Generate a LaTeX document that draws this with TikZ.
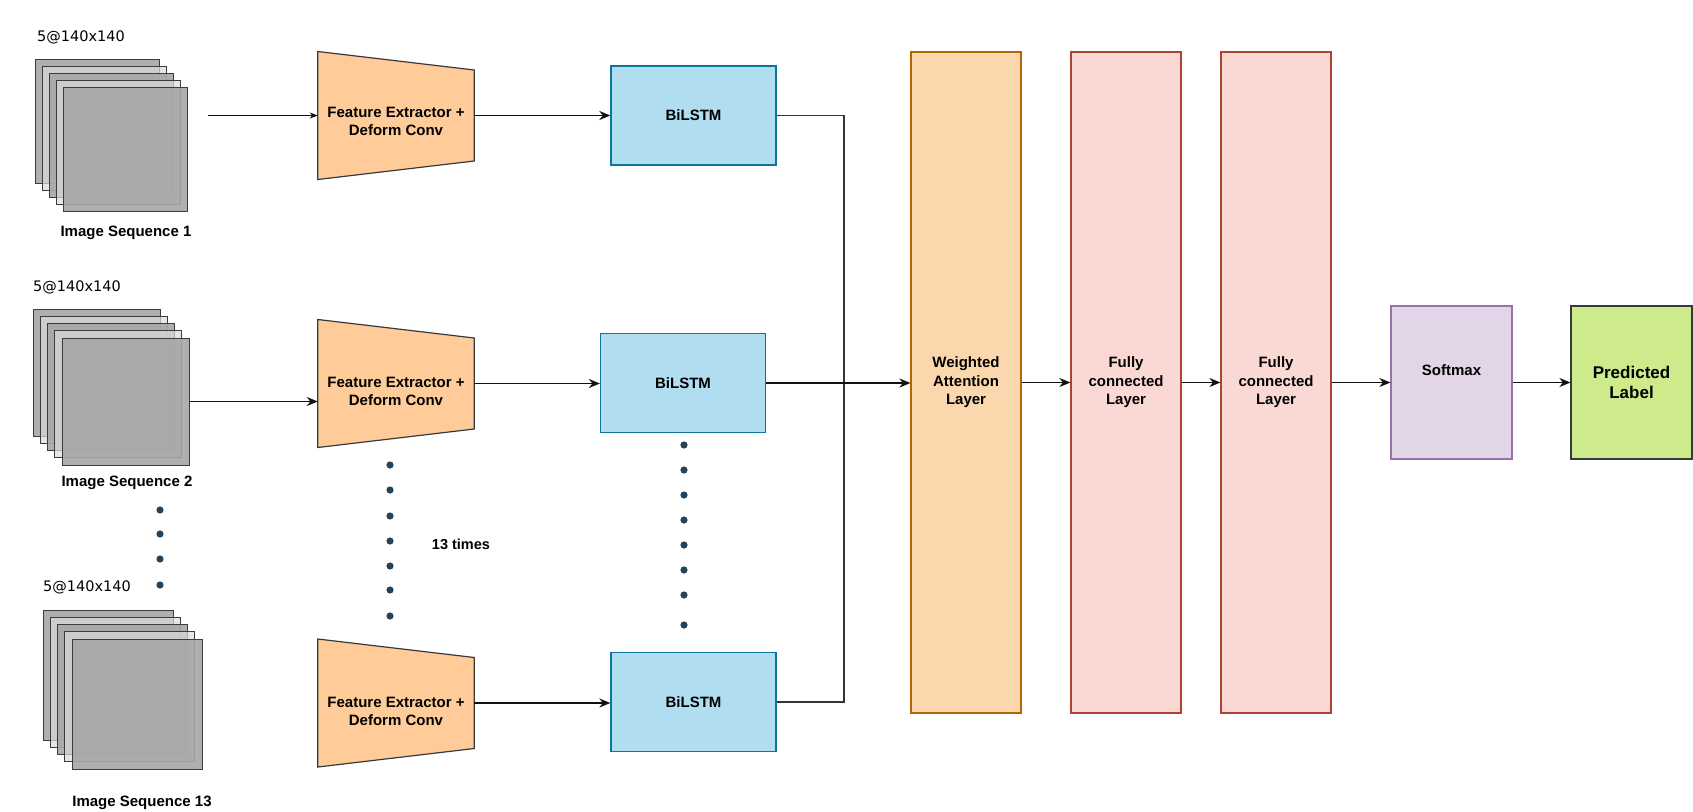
\documentclass[tikz,border=0pt]{standalone}
\usepackage{fontspec}
\setmainfont{Liberation Sans}
\newfontfamily\dejavu{DejaVu Sans}
\usetikzlibrary{arrows.meta,calc}
\definecolor{laystroke}{HTML}{3C3C3C}
\definecolor{laydark}{HTML}{A6A6A6}
\definecolor{laylight}{HTML}{DCDCDC}
\definecolor{trapfill}{HTML}{FFCC99}
\definecolor{trapline}{HTML}{36393D}
\definecolor{lstmfill}{HTML}{B1DDF0}
\definecolor{lstmline}{HTML}{10739E}
\definecolor{wafill}{HTML}{FAD7AC}
\definecolor{waline}{HTML}{B46504}
\definecolor{fcfill}{HTML}{FAD9D5}
\definecolor{fcline}{HTML}{AE4132}
\definecolor{smfill}{HTML}{E1D5E7}
\definecolor{smline}{HTML}{9673A6}
\definecolor{plfill}{HTML}{CDEB8B}
\definecolor{plline}{HTML}{36393D}
\definecolor{dotc}{HTML}{23445D}
\definecolor{connc}{HTML}{111111}
\begin{document}
\begin{tikzpicture}[x=1pt,y=-1pt,
  layer/.style={draw=laystroke, line width=1pt, inner sep=0pt, minimum width=#1, minimum height=#1},
  dk/.style={fill=laydark, fill opacity=.9},
  lt/.style={fill=laylight, fill opacity=.7},
  bold15/.style={font=\fontsize{15}{18}\selectfont\bfseries, align=center, inner sep=0pt},
  dimlbl/.style={font=\dejavu\fontsize{14.5}{17}\selectfont, anchor=west, inner sep=0pt},
  fehold/.style={minimum width=156pt, minimum height=91pt, inner sep=0pt, draw=none},
  trapshape/.style={fill=trapfill, draw=trapline, line width=1.2pt, line join=miter},
  lstm/.style={draw=lstmline, fill=lstmfill, line width=1.3pt, minimum width=165pt, minimum height=99pt, inner sep=0pt, bold15},
  tall/.style={line width=1.2pt, minimum width=110pt, minimum height=661pt, inner sep=0pt, font=\fontsize{15}{18.5}\selectfont\bfseries, align=center},
  wabox/.style={tall, draw=waline, fill=wafill},
  fcbox/.style={tall, draw=fcline, fill=fcfill},
  smbox/.style={draw=smline, fill=smfill, line width=1.2pt, minimum width=121pt, minimum height=153pt, inner sep=0pt},
  plbox/.style={draw=plline, fill=plfill, line width=1.2pt, minimum width=121pt, minimum height=153pt, inner sep=0pt, font=\fontsize{17}{20}\selectfont\bfseries, align=center},
  arr/.style={draw=connc, line width=1.6pt, -{Stealth[length=11pt,width=9pt,inset=3.5pt]}},
  thinarr/.style={draw=connc, line width=0.9pt, -{Stealth[length=8pt,width=6pt,inset=2.5pt]}},
  conn/.style={draw=connc!85, line width=1.7pt},
  dotfill/.style={fill=dotc}
]
\useasboundingbox (0,0) rectangle (1693,811);

% ---------- stack 1 ----------
\node[layer=124pt, dk] (s1a) at (97,121) {};
\node[layer=124pt, lt] (s1b) at (104,128) {};
\node[layer=124pt, dk] (s1c) at (111,135) {};
\node[layer=124pt, lt] (s1d) at (118,142) {};
\node[layer=124pt, dk] (s1e) at (125,149) {};
\node[dimlbl] (d1) at (37,37) {5@140x140};
\node[bold15] (n1) at (126,233) {Image Sequence 1};

% ---------- stack 2 ----------
\node[layer=127pt, dk] (s2a) at (96.5,372.5) {};
\node[layer=127pt, lt] (s2b) at (103.75,379.75) {};
\node[layer=127pt, dk] (s2c) at (111,387) {};
\node[layer=127pt, lt] (s2d) at (118.25,394.25) {};
\node[layer=127pt, dk] (s2e) at (125.5,401.5) {};
\node[dimlbl] (d2) at (33,287) {5@140x140};
\node[bold15] (n2) at (127,483) {Image Sequence 2};

% ---------- stack 3 ----------
\node[layer=130pt, dk] (s3a) at (108,675) {};
\node[layer=130pt, lt] (s3b) at (115.3,682.3) {};
\node[layer=130pt, dk] (s3c) at (122.6,689.6) {};
\node[layer=130pt, lt] (s3d) at (129.9,696.9) {};
\node[layer=130pt, dk] (s3e) at (137.2,704.2) {};
\node[dimlbl] (d3) at (43,587) {5@140x140};
\node[bold15] (n3) at (142,803) {Image Sequence 13};

% ---------- feature extractors ----------
\node[fehold] (fe1) at (396,115.5) {};
\node[fehold] (fe2) at (396,383.5) {};
\node[fehold] (fe3) at (396,703) {};
\foreach \f in {fe1,fe2,fe3}{
  \path[trapshape] ($(\f.west)+(0,-64)$) -- ($(\f.east)+(0,-45.5)$) -- ($(\f.east)+(0,45.5)$) -- ($(\f.west)+(0,64)$) -- cycle;
}
\node[bold15] (fe1t) at ($(fe1)+(0,6)$) {Feature Extractor +\\Deform Conv};
\node[bold15] (fe2t) at ($(fe2)+(0,8)$) {Feature Extractor +\\Deform Conv};
\node[bold15] (fe3t) at ($(fe3)+(0,8)$) {Feature Extractor +\\Deform Conv};

% ---------- BiLSTMs ----------
\node[lstm] (bl1) at (693.5,115.5) {BiLSTM};
\node[lstm] (bl2) at (683,383) {BiLSTM};
\node[lstm] (bl3) at (693.5,702) {BiLSTM};

% ---------- right part ----------
\node[wabox] (wa) at (966,382.5) {Weighted\\Attention\\Layer};
\node[fcbox] (fc1) at (1126,382.5) {Fully\\connected\\Layer};
\node[fcbox] (fc2) at (1276,382.5) {Fully\\connected\\Layer};
\node[smbox] (sm) at (1451.5,382.5) {};
\node[bold15] (smt) at ($(sm)+(0,-12)$) {Softmax};
\node[plbox] (pl) at (1631.5,382.5) {Predicted\\Label};

% ---------- dots ----------
\foreach \yy in {510,534,559,585} \fill[dotfill] (160,\yy) circle[radius=3.6];
\foreach \yy in {465,490,516,541,566,590,616} \fill[dotfill] (390,\yy) circle[radius=3.6];
\foreach \yy in {445,470,495,520,545,570,595,625} \fill[dotfill] (684,\yy) circle[radius=3.6];
\node[bold15, font=\fontsize{14.5}{17}\selectfont\bfseries] (times) at (461,544) {13 times};

% ---------- connectors ----------
\coordinate (in1) at (208,115.5);
\draw[thinarr] (in1) -- (fe1.west);
\draw[arr] (s2e.east) -- (s2e.east -| fe2.west);
\draw[arr] (fe1.east) -- (bl1.west);
\draw[arr] (fe2.east) -- (fe2.east -| bl2.west);
\draw[arr] (fe3.east) -- (fe3.east -| bl3.west);
\coordinate (jn) at (844,382.5);
\draw[conn] (bl1.east) -| (jn);
\draw[conn] (bl3.east) -| (jn);
\draw[arr] (bl2.east) -- (bl2.east -| wa.west);
\draw[arr] (wa.east) -- (fc1.west);
\draw[arr] (fc1.east) -- (fc2.west);
\draw[arr] (fc2.east) -- (sm.west);
\draw[arr] (sm.east) -- (pl.west);
\end{tikzpicture}
\end{document}
